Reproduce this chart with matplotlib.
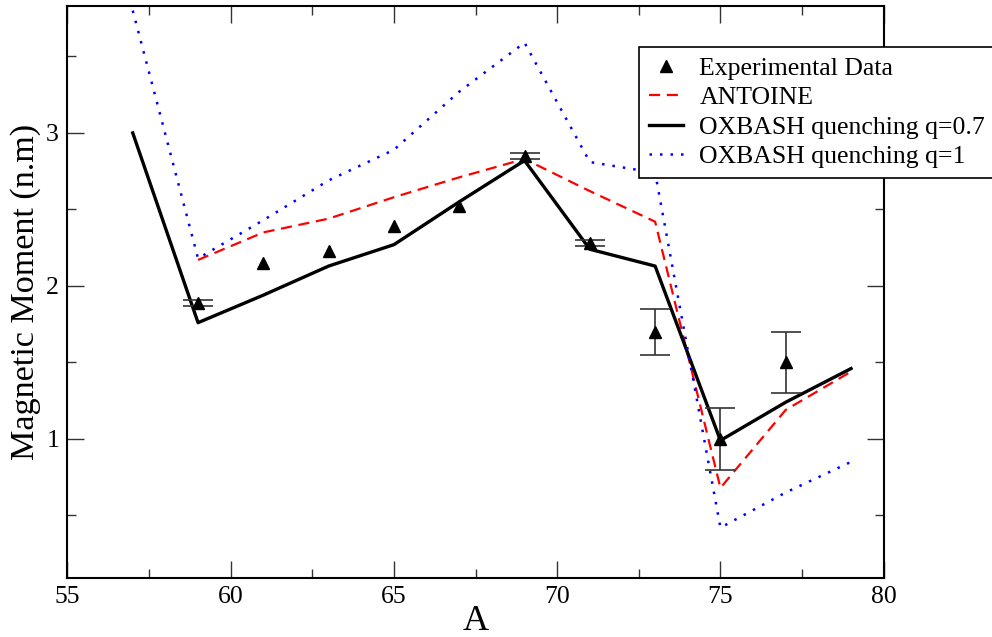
import matplotlib
matplotlib.use("Agg")
import matplotlib.pyplot as plt
from matplotlib.ticker import MultipleLocator
from matplotlib.lines import Line2D

plt.rcParams['font.family'] = ['Liberation Serif', 'DejaVu Serif']

# Experimental data
exp_A = [59, 61, 63, 65, 67, 69, 71, 73, 75, 77]
exp_mu = [1.89, 2.15, 2.23, 2.39, 2.52, 2.85, 2.28, 1.70, 1.00, 1.50]
exp_err = [0.02, 0.0, 0.0, 0.0, 0.0, 0.02, 0.02, 0.15, 0.20, 0.20]

# ANTOINE
ant_A = [59, 61, 63, 65, 67, 69, 71, 73, 75, 77, 79]
ant_mu = [2.17, 2.35, 2.44, 2.58, 2.71, 2.83, 2.62, 2.42, 0.68, 1.19, 1.44]

# OXBASH q=0.7
ox7_A = [57, 59, 61, 63, 65, 67, 69, 71, 73, 75, 77, 79]
ox7_mu = [3.00, 1.76, 1.94, 2.13, 2.27, 2.55, 2.82, 2.24, 2.13, 0.99, 1.24, 1.46]

# OXBASH q=1
ox1_A = [57, 59, 61, 63, 65, 67, 69, 71, 73, 75, 77, 79]
ox1_mu = [3.80, 2.18, 2.43, 2.69, 2.89, 3.27, 3.59, 2.81, 2.74, 0.42, 0.65, 0.85]

fig = plt.figure(figsize=(9.92, 6.37), dpi=100)
ax = fig.add_axes([0.068, 0.0931, 0.8228, 0.8975])

# error bars only where an error is shown
eb_A = [a for a, e in zip(exp_A, exp_err) if e > 0]
eb_mu = [m for m, e in zip(exp_mu, exp_err) if e > 0]
eb_err = [e for e in exp_err if e > 0]
ax.errorbar(eb_A, eb_mu, yerr=eb_err, fmt='none', ecolor='#333333',
            elinewidth=1.2, capsize=11, capthick=1.2, zorder=3)
ax.plot(exp_A, exp_mu, '^', color='black', ms=9, zorder=4)

blue_ls = (0, (1, 3.2))
ax.plot(ant_A, ant_mu, color='red', lw=1.6, ls=(0, (5, 3)), zorder=2)
ax.plot(ox7_A, ox7_mu, color='black', lw=2.4, zorder=2)
ax.plot(ox1_A, ox1_mu, color='blue', lw=1.8, ls=blue_ls, zorder=2)

ax.set_xlim(55, 80)
ax.set_ylim(0.093, 3.83)
ax.xaxis.set_major_locator(MultipleLocator(5))
ax.xaxis.set_minor_locator(MultipleLocator(2.5))
ax.yaxis.set_major_locator(MultipleLocator(1))
ax.yaxis.set_minor_locator(MultipleLocator(0.5))
ax.tick_params(which='both', direction='in', top=True, right=True,
               color='#333333', width=1.0, labelsize=18.5, pad=6)
ax.tick_params(which='major', length=12)
ax.tick_params(which='minor', length=6.2)
for s in ax.spines.values():
    s.set_linewidth(1.5)

ax.set_xlabel('A', fontsize=26, labelpad=-2)
ax.set_ylabel('Magnetic Moment (n.m)', fontsize=24.6, labelpad=4)

handles = [
    Line2D([], [], ls='none', marker='^', color='black', ms=9),
    Line2D([], [], color='red', lw=1.6, ls=(0, (5, 3))),
    Line2D([], [], color='black', lw=2.4),
    Line2D([], [], color='blue', lw=1.8, ls=blue_ls),
]
labels = ['Experimental Data', 'ANTOINE', 'OXBASH quenching q=0.7',
          'OXBASH quenching q=1']
leg = ax.legend(handles, labels, loc='upper left',
                bbox_to_anchor=(639 / 992, 1 - 46.7 / 637),
                bbox_transform=fig.transFigure, fontsize=18.5,
                frameon=True, fancybox=False, edgecolor='black',
                handlelength=1.3, handletextpad=0.65, labelspacing=0.25,
                borderpad=0.4, borderaxespad=0, framealpha=1)
leg.get_frame().set_linewidth(1.2)

fig.savefig('out.png', dpi=100)
